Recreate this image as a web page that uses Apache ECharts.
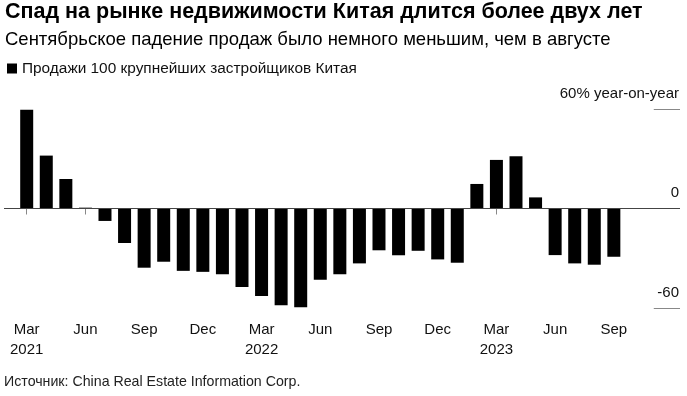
<!DOCTYPE html>
<html>
<head>
<meta charset="utf-8">
<script src="https://cdn.jsdelivr.net/npm/echarts@6/dist/echarts.min.js"></script>
<style>
  html, body {margin: 0; padding: 0; background: #fff;}
  #chart {width: 687px; height: 396px;}
</style>
</head>
<body>
<div id="chart"></div>
<script>
// month index 0 = Mar 2021 ... 30 = Sep 2023
const months = ['Mar 2021', 'Apr 2021', 'May 2021', 'Jun 2021', 'Jul 2021', 'Aug 2021', 'Sep 2021', 'Oct 2021', 'Nov 2021', 'Dec 2021',
    'Jan 2022', 'Feb 2022', 'Mar 2022', 'Apr 2022', 'May 2022', 'Jun 2022', 'Jul 2022', 'Aug 2022', 'Sep 2022', 'Oct 2022', 'Nov 2022', 'Dec 2022',
    'Jan 2023', 'Feb 2023', 'Mar 2023', 'Apr 2023', 'May 2023', 'Jun 2023', 'Jul 2023', 'Aug 2023', 'Sep 2023'];
const sales = [59.6, 31.9, 17.8, 0.5, -7.5, -20.8, -35.7, -32.1, -37.6, -38.2,
    -39.6, -47.3, -52.7, -58.4, -59.6, -43.0, -39.6, -33.1, -25.2, -28.2, -25.5, -30.7,
    -32.7, 14.8, 29.3, 31.5, 6.7, -28.1, -33.1, -33.9, -29.1];
const tickPos = [0, 3, 6, 9, 12, 15, 18, 21, 24, 27, 30];
const tickLabels = ['Mar\n2021', 'Jun', 'Sep', 'Dec', 'Mar\n2022', 'Jun', 'Sep', 'Dec', 'Mar\n2023', 'Jun', 'Sep'];
const yTicks = [-60, 0, 60];
const yLabels = ['-60', '0', '60% year-on-year'];

const xMin = -1.16;
const xMax = 33.38;
const font = '"Liberation Sans", Arial, Helvetica, sans-serif';
const chart = echarts.init(document.getElementById('chart'));

// short grid stubs at the right end for +60 / -60
const stubs = [60, -60].map(v => [
    {xAxis: 32.04, yAxis: v},
    {xAxis: xMax, yAxis: v}
]);

const option = {
    animation: false,
    textStyle: {fontFamily: font, color: '#000'},
    title: [
        {
            text: 'Спад на рынке недвижимости Китая длится более двух лет',
            left: 5,
            top: 1,
            padding: 0,
            textStyle: {fontFamily: font, fontSize: 21.5, fontWeight: 'bold', color: '#000'}
        },
        {
            text: 'Сентябрьское падение продаж было немного меньшим, чем в августе',
            left: 5,
            top: 30,
            padding: 0,
            textStyle: {fontFamily: font, fontSize: 18.5, fontWeight: 'normal', color: '#000'}
        },
        {
            text: 'Источник: China Real Estate Information Corp.',
            left: 4,
            top: 375,
            padding: 0,
            textStyle: {fontFamily: font, fontSize: 14.2, fontWeight: 'normal', color: '#222'}
        }
    ],
    legend: {
        left: 7,
        top: 61,
        padding: 0,
        itemGap: 5,
        itemWidth: 10,
        itemHeight: 10,
        icon: 'rect',
        textStyle: {fontFamily: font, fontSize: 15.4, color: '#111', padding: [0, 0, 0, 0]},
        data: ['Продажи 100 крупнейших застройщиков Китая']
    },
    grid: {
        left: 4,
        right: 7,
        top: 109,
        bottom: 88
    },
    xAxis: {
        type: 'value',
        min: xMin,
        max: xMax,
        splitLine: {show: false},
        axisLine: {show: false},
        axisTick: {
            show: true,
            customValues: tickPos,
            length: 6,
            lineStyle: {color: '#888'}
        },
        axisLabel: {
            customValues: tickPos,
            margin: 12,
            fontSize: 15,
            lineHeight: 20,
            color: '#111',
            fontFamily: font,
            formatter: function (v) {
                const i = tickPos.indexOf(Math.round(v));
                return i >= 0 ? tickLabels[i] : '';
            }
        }
    },
    yAxis: {
        type: 'value',
        position: 'right',
        min: -60,
        max: 60,
        interval: 60,
        splitLine: {show: false},
        axisLine: {show: false},
        axisTick: {show: false},
        axisLabel: {
            inside: true,
            margin: 1,
            fontSize: 15,
            color: '#111',
            fontFamily: font,
            verticalAlign: 'bottom',
            padding: [0, 0, 8, 0],
            formatter: function (v) {
                const i = yTicks.indexOf(v);
                return i >= 0 ? yLabels[i] : '';
            }
        }
    },
    series: [
        {
            name: 'Продажи 100 крупнейших застройщиков Китая',
            type: 'bar',
            barWidth: 13,
            itemStyle: {color: '#000'},
            data: sales.map((v, i) => [i, v]),
            markLine: {
                silent: true,
                symbol: 'none',
                label: {show: false},
                lineStyle: {color: '#444', type: 'solid', width: 1},
                data: [{yAxis: 0, lineStyle: {color: '#444'}}].concat(
                    stubs.map(s => [
                        Object.assign({}, s[0], {lineStyle: {color: '#888'}}),
                        s[1]
                    ])
                )
            }
        }
    ]
};

chart.setOption(option);
</script>
</body>
</html>
